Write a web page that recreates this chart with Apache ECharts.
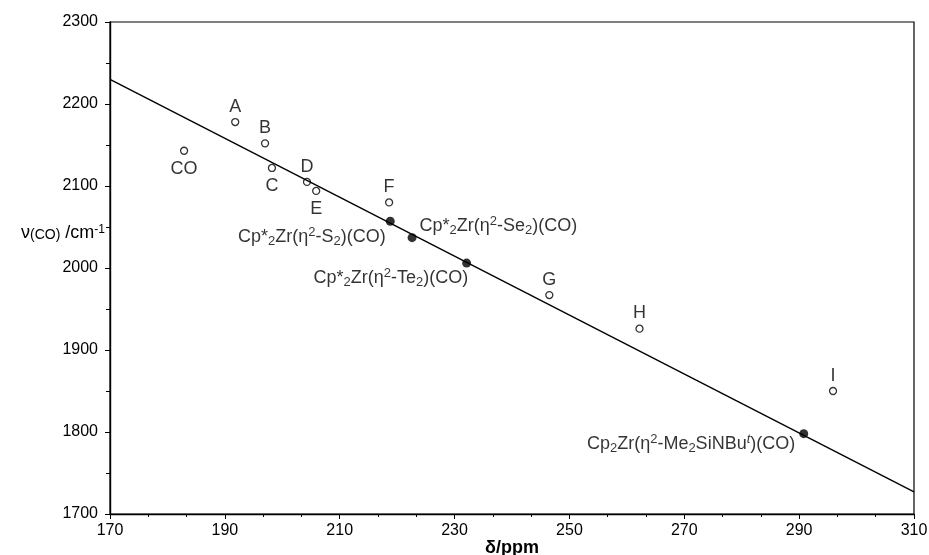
<!DOCTYPE html>
<html>
<head>
<meta charset="utf-8">
<script src="https://cdn.jsdelivr.net/npm/echarts@6/dist/echarts.min.js"></script>
<style>
  html, body { margin: 0; padding: 0; background: #fff; }
  #chart { width: 929px; height: 555px; }
</style>
</head>
<body>
<div id="chart"></div>
<script>
// open circles (literature compounds)
const openNames = ['CO', 'A', 'B', 'C', 'D', 'E', 'F', 'G', 'H', 'I'];
const openX = [182.9, 191.8, 197.0, 198.2, 204.3, 205.9, 218.6, 246.5, 262.2, 295.9];
const openY = [2143, 2178, 2152, 2122, 2105, 2094, 2080, 1967, 1926, 1850];

// filled circles (this work)
const filledNames = [
  'Cp*{sub|2}Zr(η{sup|2}-S{sub|2})(CO)',
  'Cp*{sub|2}Zr(η{sup|2}-Se{sub|2})(CO)',
  'Cp*{sub|2}Zr(η{sup|2}-Te{sub|2})(CO)',
  'Cp{sub|2}Zr(η{sup|2}-Me{sub|2}SiNBu{supi|t})(CO)',
];
const filledX = [218.8, 222.6, 232.1, 290.8];
const filledY = [2057, 2037, 2006, 1798];

// least-squares line end points
const fitX = [170, 310];
const fitY = [2230, 1727];

const xTicks = [170, 310, 20];
const yTicks = [1700, 2300, 100];

// label placement (style only)
const openLabelPos = ['bottom', 'top', 'top', 'bottom', 'top', 'bottom', 'top', 'top', 'top', 'top'];
const filledLabelStyle = [
  { position: 'left', distance: 0, offset: [0, 16] },
  { position: 'right', distance: 3, offset: [0, -12] },
  { position: 'left', distance: 0, offset: [6, 15] },
  { position: 'left', distance: 4, offset: [0, 10] },
];

const rich = {
  sub: { fontSize: 13, lineHeight: 14, verticalAlign: 'bottom', color: '#000', fontFamily: 'Liberation Sans' },
  sup: { fontSize: 13, lineHeight: 14, verticalAlign: 'top', color: '#000', fontFamily: 'Liberation Sans' },
  supi: { fontSize: 13, lineHeight: 14, verticalAlign: 'top', fontStyle: 'italic', color: '#000', fontFamily: 'Liberation Sans' },
};

const chart = echarts.init(document.getElementById('chart'));

const openData = openX.map((x, i) => ({
  value: [x, openY[i]],
  label: {
    position: openLabelPos[i],
    distance: openLabelPos[i] === 'bottom' ? 5 : 2,
    formatter: openNames[i],
  },
}));
const filledData = filledX.map((x, i) => ({
  value: [x, filledY[i]],
  label: Object.assign({ formatter: filledNames[i] }, filledLabelStyle[i]),
}));

const axisFont = { color: '#000', fontSize: 16, fontFamily: 'Liberation Sans', formatter: v => String(v) };

chart.setOption({
  backgroundColor: '#fff',
  animation: false,
  grid: {
    left: 110, right: 15, top: 22, bottom: 41,
    containLabel: false,
    outerBoundsMode: 'none',
    show: true, borderColor: '#000', borderWidth: 1.2,
  },
  xAxis: {
    type: 'value',
    min: xTicks[0], max: xTicks[1], interval: xTicks[2],
    axisLine: { onZero: false, lineStyle: { color: '#000', width: 1.4 } },
    axisTick: { show: true, length: 5, lineStyle: { color: '#000' } },
    minorTick: { show: true, splitNumber: 3, length: 3, lineStyle: { color: '#000' } },
    splitLine: { show: false },
    axisLabel: Object.assign({ margin: 9 }, axisFont),
    name: 'δ/ppm',
    nameLocation: 'middle',
    nameGap: 25,
    nameMoveOverlap: false,
    nameTextStyle: {
      color: '#000', fontSize: 18, fontWeight: 'bold', fontFamily: 'Liberation Sans',
    },
  },
  yAxis: {
    type: 'value',
    min: yTicks[0], max: yTicks[1], interval: yTicks[2],
    axisLine: { show: true, onZero: false, lineStyle: { color: '#000', width: 1.4 } },
    axisTick: { show: true, length: 5, lineStyle: { color: '#000' } },
    minorTick: { show: true, splitNumber: 2, length: 4, lineStyle: { color: '#000' } },
    splitLine: { show: false },
    axisLabel: Object.assign({ margin: 12 }, axisFont),
    name: 'ν{sub|(CO)} /cm{sup|-1}',
    nameLocation: 'middle',
    nameRotate: 0,
    nameGap: 5,
    nameMoveOverlap: false,
    nameTextStyle: {
      color: '#000', fontSize: 18, fontFamily: 'Liberation Sans',
      align: 'right',
      padding: [0, 0, 70, 0],
      rich: {
        sub: { fontSize: 14, lineHeight: 14, verticalAlign: 'bottom', color: '#000', fontFamily: 'Liberation Sans' },
        sup: { fontSize: 12, lineHeight: 14, verticalAlign: 'top', color: '#000', fontFamily: 'Liberation Sans' },
      },
    },
  },
  series: [
    {
      type: 'line',
      data: fitX.map((x, i) => [x, fitY[i]]),
      showSymbol: false,
      lineStyle: { color: '#000', width: 1.4 },
      silent: true,
    },
    {
      type: 'scatter',
      data: openData,
      symbol: 'circle',
      symbolSize: 7,
      itemStyle: { color: '#fff', borderColor: '#000', borderWidth: 1.3 },
      label: {
        show: true, color: '#000', fontSize: 18,
        fontFamily: 'Liberation Sans',
      },
    },
    {
      type: 'scatter',
      data: filledData,
      symbol: 'circle',
      symbolSize: 9,
      itemStyle: { color: '#000' },
      label: {
        show: true, color: '#000', fontSize: 18, lineHeight: 22,
        fontFamily: 'Liberation Sans', rich: rich,
      },
    },
  ],
});
</script>
</body>
</html>
